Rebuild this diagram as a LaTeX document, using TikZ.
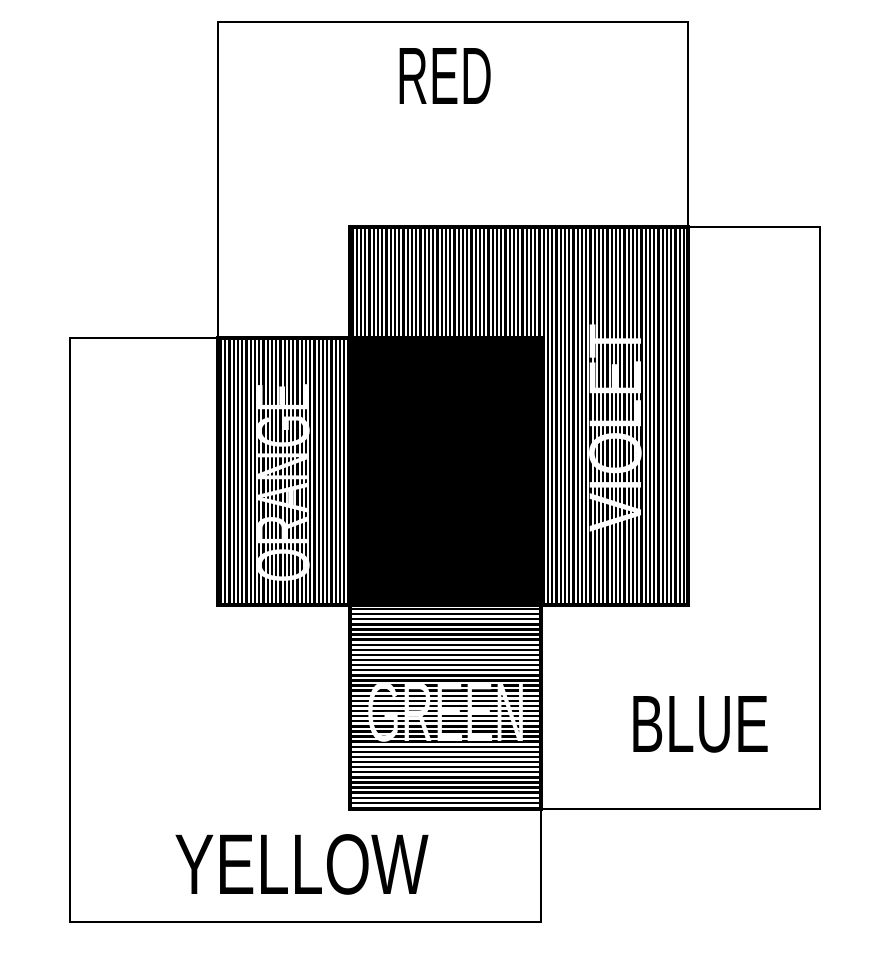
\documentclass[tikz,border=0pt]{standalone}
\usepackage{fontspec}
\usepackage{graphicx}
\newfontfamily\labfont{Liberation Sans}
\tikzset{
  outer/.style={draw=black, line width=2.2pt},
  hatchline/.style={line width=2.1pt, black},
  hatchlineh/.style={line width=2.4pt, black},
  border/.style={draw=black, line width=3.6pt},
  lab/.style={inner sep=0pt, text=black},
  wlab/.style={inner sep=0pt, text=white},
}
\newcommand{\fitlab}[3]{\resizebox{#1pt}{#2pt}{\labfont #3}}
\begin{document}
\begin{tikzpicture}[x=1pt,y=-1pt]
\useasboundingbox (0,0) rectangle (875,960);
\fill[white] (0,0) rectangle (875,960);
% outer rectangles
\draw[outer] (218,22) rectangle (688,605);
\draw[outer] (350,227) rectangle (820,809);
\draw[outer] (70,338) rectangle (541,922);
% violet hatch (red and blue)
\fill[white] (350,227) rectangle (688,605);
\foreach \i in {0,...,79} {
  \draw[hatchline] ({352.5+\i*4.25},227) -- ({352.5+\i*4.25},605);
}
% orange hatch (red and yellow)
\fill[white] (218,338) rectangle (350,605);
\foreach \i in {0,...,30} {
  \draw[hatchline] ({221+\i*4.25},338) -- ({221+\i*4.25},605);
}
% green hatch (blue and yellow)
\fill[white] (350,605) rectangle (541,809);
\foreach \i in {0,...,39} {
  \draw[hatchlineh] (350,{609+\i*5.1}) -- (541,{609+\i*5.1});
}
% black (all three)
\fill[black] (350,338) rectangle (541,605);
% borders of the coloured regions
\draw[border] (218,338) rectangle (350,605);
\draw[border] (350,227) rectangle (688,605);
\draw[border] (350,605) rectangle (541,809);
\draw[border] (350,338) rectangle (541,605);
% labels
\node[lab] (red) at (445,76) {\fitlab{96}{56}{RED}};
\node[lab] (blue) at (700,725) {\fitlab{141}{56}{BLUE}};
\node[lab] (yellow) at (302,865) {\fitlab{255}{60}{YELLOW}};
\node[wlab] (green) at (447,712) {\fitlab{160}{59}{GREEN}};
\node[wlab] (orange) at (283,483) {\rotatebox{90}{\fitlab{200}{53}{ORANGE}}};
\node[wlab] (violet) at (616,428) {\rotatebox{90}{\fitlab{209}{52}{VIOLET}}};
\end{tikzpicture}
\end{document}
